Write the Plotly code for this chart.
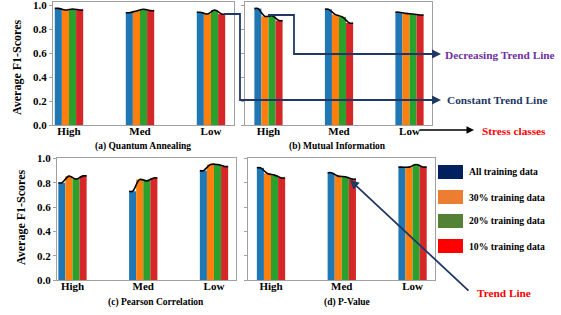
import plotly.graph_objects as go

W, H = 561, 315
categories = ["High", "Med", "Low"]
series_names = ["All training data", "30% training data", "20% training data", "10% training data"]
bar_colors = ["#1f77b4", "#ff7f0e", "#2ca02c", "#d62728"]
legend_colors = ["#002060", "#ED7D31", "#548235", "#FF0000"]

# values[category][series]
quantum_annealing = [[0.972, 0.958, 0.967, 0.958],
                     [0.936, 0.950, 0.964, 0.953],
                     [0.939, 0.925, 0.958, 0.925]]
mutual_information = [[0.970, 0.905, 0.910, 0.870],
                      [0.964, 0.920, 0.900, 0.850],
                      [0.940, 0.930, 0.925, 0.917]]
pearson_correlation = [[0.800, 0.855, 0.830, 0.857],
                       [0.730, 0.827, 0.816, 0.840],
                       [0.900, 0.950, 0.950, 0.934]]
p_value = [[0.923, 0.877, 0.863, 0.840],
           [0.882, 0.855, 0.849, 0.830],
           [0.929, 0.929, 0.950, 0.930]]
y_ticks = [0, 0.2, 0.4, 0.6, 0.8, 1.0]
y_tick_labels = ["0.0", "0.2", "0.4", "0.6", "0.8", "1.0"]

panels = [
    ("(a) Quantum Annealing", quantum_annealing),
    ("(b) Mutual Information", mutual_information),
    ("(c) Pearson Correlation", pearson_correlation),
    ("(d) P-Value", p_value),
]

def px(x):
    return x / W

def py(y):
    return 1 - y / H

FONT = "Liberation Serif"

# panel geometry in pixels: x0, x1, ytop, ybottom, xrange, yrange
geom = [
    (53, 234, 2, 125, [-0.225, 2.324], [0, 1.025]),
    (245, 432, 2, 125, [-0.333, 2.319], [0, 1.025]),
    (57, 236, 158, 280, [-0.219, 2.311], [0, 1.004]),
    (248, 435, 158, 280, [-0.325, 2.317], [0, 1.004]),
]

fig = go.Figure()
layout = {}
for p, ((title, vals), (x0, x1, yt, yb, xr, yr)) in enumerate(zip(panels, geom)):
    n = "" if p == 0 else str(p + 1)
    xa, ya = "x" + n, "y" + n
    for s in range(4):
        fig.add_trace(go.Bar(
            x=list(range(len(categories))),
            y=[vals[c][s] for c in range(len(categories))],
            width=0.1, offset=-0.2 + 0.1 * s,
            marker=dict(color=bar_colors[s], line=dict(width=0)),
            xaxis=xa, yaxis=ya, showlegend=False, name=series_names[s]))
    for c in range(len(categories)):
        v = vals[c]
        lx = [c - 0.2] + [c - 0.15 + 0.1 * s for s in range(4)] + [c + 0.2]
        ly = [v[0]] + list(v) + [v[3]]
        fig.add_trace(go.Scatter(x=lx, y=ly, mode="lines",
                                 line=dict(color="black", width=1.6, shape="spline"),
                                 xaxis=xa, yaxis=ya, showlegend=False, hoverinfo="skip"))
    left = p in (0, 2)
    layout["xaxis" + n] = dict(
        domain=[px(x0), px(x1)], range=xr, anchor=ya, automargin=False,
        tickvals=list(range(len(categories))),
        ticktext=["<b>" + c + "</b>" for c in categories],
        ticklabelstandoff=-4, ticklabeloverflow="allow",
        showline=True, mirror=True, linecolor="#a0a0a0", linewidth=1,
        ticks="", showgrid=False, zeroline=False,
        tickfont=dict(family=FONT, size=11, color="black"))
    layout["yaxis" + n] = dict(
        domain=[py(yb), py(yt)], range=yr, anchor=xa, automargin=False,
        tickvals=y_ticks,
        ticktext=["<b>" + t + "</b>" for t in y_tick_labels],
        showticklabels=left, ticklabeloverflow="allow",
        showline=True, mirror=True, linecolor="#a0a0a0", linewidth=1,
        ticks="outside", ticklen=3, tickcolor="#a0a0a0",
        showgrid=False, zeroline=False,
        tickfont=dict(family=FONT, size=11, color="black"))

annotations = []
shapes = []

def text(x, y, s, size, color="black", xanchor="center", angle=0):
    annotations.append(dict(x=px(x), y=py(y), xref="paper", yref="paper",
                            text="<b>" + s + "</b>", showarrow=False,
                            xanchor=xanchor, yanchor="middle", textangle=angle,
                            font=dict(family=FONT, size=size, color=color)))

# subplot titles
text(143, 146, panels[0][0], 9.5)
text(337, 146, panels[1][0], 9.5)
text(156, 302, panels[2][0], 9.5)
text(347, 302, panels[3][0], 9.5)
# y-axis titles
text(17, 67, "Average F1-Scores", 12, angle=-90)
text(21, 217, "Average F1-Scores", 12, angle=-90)

# legend
leg_y = [172, 197, 221, 246]
for name, col, yc in zip(series_names, legend_colors, leg_y):
    shapes.append(dict(type="rect", xref="paper", yref="paper",
                       x0=px(438), x1=px(463), y0=py(yc + 7), y1=py(yc - 7),
                       fillcolor=col, line=dict(width=0)))
    text(467, yc, name, 9.7, xanchor="left")

NAVY = "#1F3864"
# constant trend line path
shapes.append(dict(type="path", xref="paper", yref="paper",
                   path=f"M {px(224)} {py(14)} L {px(240)} {py(14)} L {px(240)} {py(100)} L {px(300)} {py(100)}",
                   line=dict(color=NAVY, width=1.8)))
annotations.append(dict(x=px(441), y=py(100), xref="paper", yref="paper", showarrow=True,
                        ax=-145, ay=0, arrowhead=2, arrowsize=1, arrowwidth=1.8,
                        arrowcolor=NAVY, text=""))
# decreasing trend line path
shapes.append(dict(type="path", xref="paper", yref="paper",
                   path=f"M {px(268)} {py(15)} L {px(294)} {py(15)} L {px(294)} {py(54)} L {px(340)} {py(54)}",
                   line=dict(color=NAVY, width=1.8)))
annotations.append(dict(x=px(441), y=py(54), xref="paper", yref="paper", showarrow=True,
                        ax=-105, ay=0, arrowhead=2, arrowsize=1, arrowwidth=1.8,
                        arrowcolor=NAVY, text=""))
# stress classes arrow
annotations.append(dict(x=px(474), y=py(130), xref="paper", yref="paper", showarrow=True,
                        ax=-56, ay=0, arrowhead=2, arrowsize=1, arrowwidth=1.5,
                        arrowcolor="black", text=""))
# trend line arrow
annotations.append(dict(x=px(350), y=py(180), xref="paper", yref="paper", showarrow=True,
                        ax=120, ay=112, arrowhead=2, arrowsize=1, arrowwidth=1.8,
                        arrowcolor=NAVY, text=""))

text(443, 55, "Decreasing Trend Line", 11.3, color="#7030A0", xanchor="left")
text(445, 100, "Constant Trend Line", 11.3, color="#1F3864", xanchor="left")
text(480, 131, "Stress classes", 11.3, color="#FF0000", xanchor="left")
text(475, 293, "Trend Line", 11.3, color="#FF0000", xanchor="left")

fig.update_layout(**layout)
fig.update_layout(width=W, height=H, margin=dict(l=0, r=0, t=0, b=0, autoexpand=False),
                  paper_bgcolor="white", plot_bgcolor="white",
                  annotations=annotations, shapes=shapes, barmode="overlay",
                  font=dict(family=FONT))
fig.write_html("out.html", config={"displayModeBar": False},
               post_script="document.body.style.margin='0';document.body.style.overflow='hidden';")
